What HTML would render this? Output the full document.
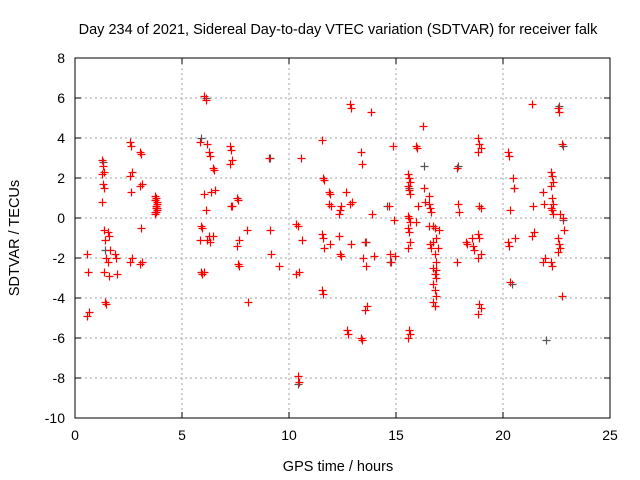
<!DOCTYPE html>
<html><head><meta charset="utf-8">
<style>
body{margin:0;background:#fff;}
svg{display:block;font-family:"Liberation Sans",sans-serif;}
</style></head>
<body>
<svg id="chart" width="640" height="480">
<rect width="640" height="480" fill="#fff"/>
<text x="338" y="34" text-anchor="middle" font-size="14.5">Day 234 of 2021, Sidereal Day-to-day VTEC variation (SDTVAR) for receiver falk</text>
<g id="grid"></g>
<g id="ticks"></g>
<g id="gray"></g>
<g id="red"></g>
<rect x="75" y="58" width="535" height="360" fill="none" stroke="#000" stroke-width="1"/>
<text x="338" y="471" text-anchor="middle" font-size="14.5">GPS time / hours</text>
<text x="0" y="0" transform="translate(19,238) rotate(-90)" text-anchor="middle" font-size="14.5">SDTVAR / TECUs</text>
</svg>
<script>
const xTicks=[0,5,10,15,20,25];
const yTicks=[8,6,4,2,0,-2,-4,-6,-8,-10];
const redHours=[0.6,1.3,1.4,1.6,1.9,2.6,3.1,3.8,5.9,6.1,6.3,6.5,7.3,7.6,8.1,9.1,9.6,10.4,10.6,11.6,11.9,12.4,12.7,12.9,13.4,13.6,13.9,14.7,14.9,15.6,16.0,16.3,16.6,16.8,17.0,17.9,18.3,18.6,18.9,20.3,20.5,21.4,21.9,22.3,22.6,22.8];
const redValues=[
[-1.8,-2.7,-4.7,-4.9],
[2.9,2.6,2.3,2.2,1.7,1.5,0.8],
[-0.6,-1.1,-2.0,-2.7,-4.2,-4.3],
[-0.7,-0.9,-1.6,-2.2,-2.9],
[-1.8,-2.0,-2.8],
[3.8,3.6,2.3,2.1,1.3,-2.0,-2.2],
[3.3,3.2,1.7,1.6,-0.5,-2.2,-2.3],
[0.3,0.5,0.7,0.9,1.0,0.4,0.2,0.6,0.8,1.1,0.3,0.5,0.9,0.6],
[3.8,-0.4,-0.5,-1.1,-2.7,-2.8],
[6.1,5.9,3.7,1.2,0.4,-1.1,-2.7],
[3.3,3.1,1.3,-0.9,-1.2],
[2.5,2.4,1.4,-0.9],
[3.6,3.4,2.9,2.7,0.6,0.6],
[1.0,0.9,-1.1,-1.4,-2.3,-2.4],
[-0.6,-4.2],
[3.0,-0.6,-1.8],
[-2.4],
[-0.3,-0.4,-2.7,-2.8,-7.9,-8.2],
[3.0,-1.1],
[3.9,2.0,1.9,-0.8,-1.0,-1.5,-3.6,-3.8],
[1.3,1.2,0.6,0.7,-1.3],
[0.2,0.4,0.6,-0.9,-1.8,-1.9],
[1.3,-5.6,-5.8],
[5.7,5.5,0.8,0.7,-1.3],
[3.3,2.7,-2.0,-6.0,-6.1],
[-1.2,-2.4,-4.4,-4.6],
[5.3,0.2,-1.9],
[0.6,-1.8,-2.2],
[3.6,-0.1,-1.9],
[2.2,2.0,1.8,1.6,1.4,1.2,0.1,0.0,-0.2,-0.5,-0.7,-1.2,-1.5,-5.6,-5.8,-6.0],
[3.6,3.5,0.6,-0.2],
[4.6,1.5,0.8],
[0.7,0.5,0.3,1.1,-1.3,-1.5,-0.4],
[-0.4,-0.5,-1.0,-1.2,-1.8,-2.2,-2.5,-2.8,-3.0,-3.3,-3.6,-3.9,-4.2,-4.4,-2.6],
[-1.5,-0.6],
[2.5,0.7,0.3,-2.2],
[-1.2,-1.3],
[-1.0,-1.4,-1.6],
[4.0,3.7,3.5,3.3,0.6,0.5,-0.8,-1.0,-1.8,-2.0,-4.3,-4.5,-4.8],
[3.3,3.1,0.4,-1.2,-1.4,-3.2],
[2.0,1.5,-1.0],
[5.7,0.6,-0.7,-0.9],
[1.3,0.7,-2.0,-2.2],
[2.3,2.1,1.8,1.6,1.0,0.7,0.5,0.4,0.2,-2.2,-2.4],
[5.5,5.3,0.2,-1.0,-1.3,-1.5,-1.7],
[3.7,0.0,-0.6,-3.9]
];
const grayHours=[1.3,1.4,5.9,6.1,9.1,10.4,13.6,14.7,14.6,16.3,17.9,20.4,20.5,22.0,22.6,22.8,22.8,15.6,16.8];
const grayValues=[2.8,-1.6,4.0,6.0,3.0,-8.3,-1.2,-2.2,0.6,2.6,2.6,-3.3,1.5,-6.1,5.6,3.6,-0.1,1.5,-4.4];
const X0=75,X1=610,Y0=418,Y1=58;
const sx=h=>X0+(h-0)/(25-0)*(X1-X0);
const sy=v=>Y0-(v-(-10))/(8-(-10))*(Y0-Y1);
const NS="http://www.w3.org/2000/svg";
function mk(tag,attrs,parent){const e=document.createElementNS(NS,tag);for(const k in attrs)e.setAttribute(k,attrs[k]);parent.appendChild(e);return e;}
const grid=document.getElementById('grid'),ticks=document.getElementById('ticks');
xTicks.forEach(t=>{
  const x=sx(t);
  if(t>0&&t<25){const g=mk('line',{x1:x,x2:x,y1:Y1,y2:Y0,stroke:'#a0a0a0','stroke-dasharray':'2,3'},grid);
  
  }
  mk('line',{x1:x,x2:x,y1:Y0,y2:Y0-6,stroke:'#000'},ticks);
  mk('line',{x1:x,x2:x,y1:Y1,y2:Y1+6,stroke:'#000'},ticks);
  const l=mk('text',{x:x,y:Y0+22,'text-anchor':'middle','font-size':'14'},ticks);
  l.textContent=t;
  
  
});
yTicks.forEach(t=>{
  const y=sy(t);
  if(t>-10&&t<8){const g=mk('line',{x1:X0,x2:X1,y1:y,y2:y,stroke:'#a0a0a0','stroke-dasharray':'2,3'},grid);
  
  }
  mk('line',{x1:X0,x2:X0+6,y1:y,y2:y,stroke:'#000'},ticks);
  mk('line',{x1:X1,x2:X1-6,y1:y,y2:y,stroke:'#000'},ticks);
  const l=mk('text',{x:X0-10,y:y+5,'text-anchor':'end','font-size':'14'},ticks);
  l.textContent=t;
  
  
});
function plus(h,v,color,parent,name){
  const x=Math.round(sx(h))+0.5,y=Math.round(sy(v))+0.5;
  const p=mk('path',{d:`M${x-4},${y}H${x+4}M${x},${y-4}V${y+4}`,stroke:color,'stroke-width':'1.2',fill:'none'},parent);
  
  
}
const gg=document.getElementById('gray');
grayHours.forEach((h,i)=>plus(h,grayValues[i],'#555',gg,'gray-point'));
const rg=document.getElementById('red');
redHours.forEach((h,i)=>redValues[i].forEach((v,j)=>plus(h+((j%3)-1)*0.05,v,'#ff0000',rg,'red-point')));
</script>
</body></html>
